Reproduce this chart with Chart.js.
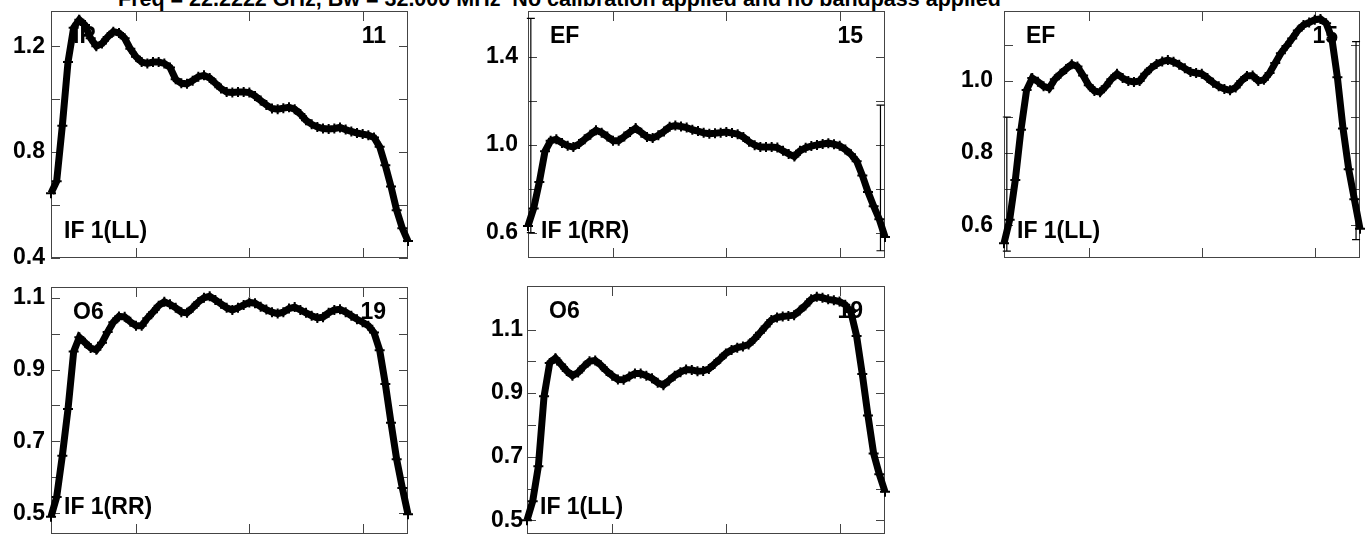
<!DOCTYPE html>
<html>
<head>
<meta charset="utf-8">
<script src="https://cdn.jsdelivr.net/npm/chart.js@4.4.1/dist/chart.umd.min.js"></script>
<style>
body { margin: 0; background: #fff; width: 1367px; height: 534px; overflow: hidden; position: relative; }
#title { position: absolute; left: 118px; top: -12px; font: bold 21.5px "Liberation Sans"; line-height: 22px; white-space: pre; color: #000; }
canvas { position: absolute; }
</style>
</head>
<body>
<div id="title">Freq = 22.2222 GHz, Bw = 32.000 MHz  No calibration applied and no bandpass applied</div>
<canvas id="p0"></canvas>
<canvas id="p1"></canvas>
<canvas id="p2"></canvas>
<canvas id="p3"></canvas>
<canvas id="p4"></canvas>
<script>
// channel numbers (x axis, no labels shown)
var channels = [1,2,3,4,5,6,7,8,9,10,11,12,13,14,15,16,17,18,19,20,21,22,23,24,25,26,27,28,29,30,31,32,
    33,34,35,36,37,38,39,40,41,42,43,44,45,46,47,48,49,50,51,52,53,54,55,56,57,58,59,60,61,62,63,64];
var xTickVals = [16, 36, 56];

// amplitude spectra, one per panel
var irLL11 = [0.645,0.69,0.90,1.14,1.27,1.30,1.28,1.23,1.20,1.21,1.235,1.255,1.25,1.23,1.19,1.16,
    1.14,1.135,1.14,1.14,1.135,1.12,1.075,1.06,1.058,1.07,1.085,1.09,1.08,1.06,1.04,1.027,
    1.025,1.027,1.027,1.025,1.012,0.995,0.978,0.965,0.962,0.966,0.969,0.962,0.944,0.92,0.905,0.895,
    0.889,0.887,0.889,0.893,0.885,0.878,0.872,0.868,0.864,0.855,0.82,0.75,0.67,0.58,0.512,0.464];
var efRR15 = [0.63,0.71,0.83,0.97,1.018,1.025,1.008,0.995,0.989,1.003,1.025,1.045,1.066,1.055,1.037,1.018,
    1.018,1.037,1.058,1.076,1.055,1.035,1.03,1.043,1.06,1.082,1.087,1.083,1.078,1.068,1.062,1.054,
    1.05,1.052,1.055,1.058,1.053,1.048,1.035,1.014,0.998,0.989,0.989,0.99,0.987,0.972,0.958,0.946,
    0.972,0.986,0.994,0.999,1.003,1.007,1.002,0.995,0.978,0.956,0.925,0.86,0.785,0.72,0.66,0.58];
var efLL15 = [0.55,0.615,0.725,0.865,0.975,1.008,0.998,0.985,0.98,1.005,1.02,1.033,1.046,1.04,1.015,0.988,
    0.972,0.969,0.985,1.005,1.02,1.008,1.0,0.997,1.0,1.02,1.035,1.047,1.054,1.058,1.053,1.045,
    1.035,1.025,1.022,1.02,1.008,0.995,0.985,0.978,0.974,0.982,1.0,1.014,1.015,1.0,1.003,1.022,
    1.05,1.077,1.097,1.118,1.14,1.155,1.162,1.17,1.172,1.16,1.12,1.01,0.868,0.755,0.672,0.59];
var o6RR19 = [0.49,0.545,0.66,0.79,0.95,0.99,0.975,0.96,0.955,0.975,1.005,1.032,1.048,1.047,1.033,1.022,
    1.022,1.043,1.06,1.078,1.089,1.082,1.072,1.06,1.058,1.072,1.088,1.10,1.104,1.094,1.083,1.072,
    1.066,1.072,1.08,1.087,1.085,1.075,1.067,1.06,1.056,1.06,1.07,1.074,1.066,1.058,1.05,1.044,
    1.046,1.058,1.066,1.068,1.06,1.05,1.04,1.032,1.022,1.003,0.954,0.86,0.752,0.65,0.57,0.497];
var o6LL19 = [0.50,0.56,0.67,0.89,0.995,1.01,0.99,0.97,0.955,0.965,0.984,1.0,1.003,0.988,0.97,0.955,
    0.943,0.942,0.952,0.962,0.962,0.955,0.947,0.933,0.925,0.94,0.955,0.966,0.974,0.973,0.969,0.97,
    0.976,0.992,1.008,1.025,1.036,1.043,1.047,1.053,1.07,1.09,1.11,1.13,1.138,1.141,1.143,1.145,
    1.16,1.176,1.195,1.203,1.20,1.195,1.192,1.188,1.178,1.155,1.08,0.96,0.83,0.71,0.645,0.59];

// error bars on the edge channels: [channel, low, high]
var irLL11Err = [];
var efRR15Err = [[1.5, 0.60, 1.575], [63.2, 0.517, 1.18]];
var efLL15Err = [[1.5, 0.528, 0.90], [63.3, 0.56, 1.109]];
var o6RR19Err = [];
var o6LL19Err = [];

var sourceNames = ['IR', 'EF', 'EF', 'O6', 'O6'];
var antennaNums = ['11', '15', '15', '19', '19'];
var ifLabels = ['IF 1(LL)', 'IF 1(RR)', 'IF 1(LL)', 'IF 1(RR)', 'IF 1(LL)'];

var yTicks = [
    [0.4, 0.6, 0.8, 1.0, 1.2],
    [0.6, 0.8, 1.0, 1.2, 1.4],
    [0.6, 0.7, 0.8, 0.9, 1.0, 1.1],
    [0.5, 0.6, 0.7, 0.8, 0.9, 1.0, 1.1],
    [0.5, 0.6, 0.7, 0.8, 0.9, 1.0, 1.1]
];
var yTickLabels = [
    ['0.4', '0.8', '1.2'],
    ['0.6', '1.0', '1.4'],
    ['0.6', '0.8', '1.0'],
    ['0.5', '0.7', '0.9', '1.1'],
    ['0.5', '0.7', '0.9', '1.1']
];
var yRanges = [[0.4, 1.333], [0.484, 1.609], [0.509, 1.194], [0.442, 1.13], [0.457, 1.237]];

var series = [irLL11, efRR15, efLL15, o6RR19, o6LL19];
var errBars = [irLL11Err, efRR15Err, efLL15Err, o6RR19Err, o6LL19Err];

// frame boxes on the page: left, top, width, height, label gap
var boxes = [
    [51, 11, 357, 247, 6],
    [528, 11, 357, 247, 10],
    [1004, 11, 356, 247, 11],
    [51, 287, 357, 247, 6],
    [527, 286, 358, 248, 4]
];

var AXW = 50, PT = 14, PB = 14, PR = 12;
var FONT = 'bold 23px "Liberation Sans"';

var panelDeco = {
    id: 'panelDeco',
    beforeDatasetsDraw: function (chart) {
        var o = chart.options.plugins.panelDeco;
        var ctx = chart.ctx, a = chart.chartArea;
        var ys = chart.scales.y, xs = chart.scales.x;
        ctx.save();
        ctx.strokeStyle = '#444';
        ctx.lineWidth = 1;
        ctx.strokeRect(a.left + 0.5, a.top + 0.5, a.right - a.left - 1, a.bottom - a.top - 1);
        ctx.beginPath();
        ys.ticks.forEach(function (t) {
            var py = Math.round(ys.getPixelForValue(t.value)) + 0.5;
            ctx.moveTo(a.left, py); ctx.lineTo(a.left + 9, py);
            ctx.moveTo(a.right - 9, py); ctx.lineTo(a.right, py);
        });
        o.xTicks.forEach(function (v) {
            var px = Math.round(xs.getPixelForValue(v)) + 0.5;
            ctx.moveTo(px, a.top); ctx.lineTo(px, a.top + 10);
            ctx.moveTo(px, a.bottom - 10); ctx.lineTo(px, a.bottom);
        });
        ctx.stroke();

        ctx.fillStyle = '#000';
        ctx.font = FONT;
        ctx.textBaseline = 'alphabetic';
        ctx.textAlign = 'left';
        ctx.fillText(o.source, a.left + 22, a.top + 32);
        ctx.fillText(o.ifLabel, a.left + 13, a.bottom - 20);
        ctx.textAlign = 'right';
        ctx.fillText(o.antenna, a.right - 22, a.top + 32);
        ctx.restore();
    },
    afterDatasetsDraw: function (chart) {
        var o = chart.options.plugins.panelDeco;
        var ctx = chart.ctx, ys = chart.scales.y, xs = chart.scales.x;
        ctx.save();
        ctx.strokeStyle = '#000';
        ctx.lineWidth = 1.2;
        ctx.beginPath();
        o.errors.forEach(function (e) {
            var px = xs.getPixelForValue(e[0]);
            var y0 = ys.getPixelForValue(e[1]), y1 = ys.getPixelForValue(e[2]);
            ctx.moveTo(px, y0); ctx.lineTo(px, y1);
            ctx.moveTo(px - 4, y0); ctx.lineTo(px + 4, y0);
            ctx.moveTo(px - 4, y1); ctx.lineTo(px + 4, y1);
        });
        ctx.stroke();
        ctx.restore();
    }
};

makePanel = function (i) {
    var b = boxes[i];
    var cv = document.getElementById('p' + i);
    cv.width = AXW + b[2] + PR;
    cv.height = PT + b[3] + PB;
    cv.style.left = (b[0] - AXW) + 'px';
    cv.style.top = (b[1] - PT) + 'px';

    var labels = yTickLabels[i];
    var ticks = yTicks[i];
    var points = channels.map(function (c, k) { return { x: c, y: series[i][k] }; });

    return new Chart(cv, {
        type: 'line',
        data: {
            datasets: [{
                data: points,
                borderColor: '#000',
                backgroundColor: '#000',
                borderWidth: 7,
                pointStyle: 'cross',
                pointRadius: 5,
                pointBorderWidth: 2,
                pointBorderColor: '#000',
                tension: 0,
                clip: false
            }]
        },
        options: {
            responsive: false,
            animation: false,
            events: [],
            layout: { padding: { top: PT, bottom: PB, right: PR, left: 0 } },
            plugins: {
                legend: { display: false },
                tooltip: { enabled: false },
                panelDeco: {
                    xTicks: xTickVals,
                    source: sourceNames[i],
                    antenna: antennaNums[i],
                    ifLabel: ifLabels[i],
                    errors: errBars[i]
                }
            },
            scales: {
                x: {
                    type: 'linear',
                    min: 1,
                    max: 64,
                    display: false
                },
                y: {
                    type: 'linear',
                    min: yRanges[i][0],
                    max: yRanges[i][1],
                    grid: { display: false, drawTicks: false },
                    border: { display: false },
                    afterFit: function (scale) {
                        scale.width = AXW;
                        scale.paddingTop = 0;
                        scale.paddingBottom = 0;
                    },
                    afterBuildTicks: function (scale) {
                        scale.ticks = ticks.map(function (v) { return { value: v }; });
                    },
                    ticks: {
                        padding: b[4],
                        color: '#000',
                        font: { family: 'Liberation Sans', size: 23, weight: 'bold' },
                        callback: function (v) {
                            var s = v.toFixed(1);
                            return labels.indexOf(s) >= 0 ? s : '';
                        }
                    }
                }
            }
        },
        plugins: [panelDeco]
    });
}

for (var i = 0; i < 5; i++) {
    makePanel(i);
}
</script>
</body>
</html>
